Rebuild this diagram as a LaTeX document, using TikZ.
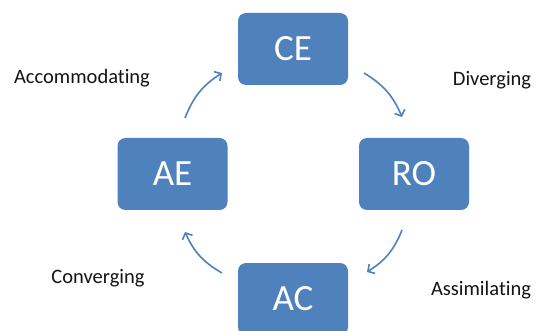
\documentclass[tikz,border=0pt]{standalone}
\usepackage{fontspec}
\setmainfont{Carlito}[Ligatures=NoCommon]
\usetikzlibrary{arrows.meta}
\definecolor{boxblue}{HTML}{4F81BD}
\definecolor{txt}{HTML}{141414}
\tikzset{
  stagebox/.style={fill=boxblue, draw=none, rounded corners=8pt, minimum width=110pt, minimum height=72pt, inner sep=0pt, text=white, font=\fontsize{37}{40}\selectfont},
  cyclearrow/.style={draw=boxblue, line width=1.6pt, -{Straight Barb[length=5pt,width=11pt]}, bend left=18},
  stylelabel/.style={text=txt, font=\fontsize{20.5}{22}\selectfont, inner sep=0pt}
}
\begin{document}
\begin{tikzpicture}[x=1pt,y=-1pt]
\useasboundingbox (0,0) rectangle (538,331);
\fill[white] (0,0) rectangle (538,331);
\node[stagebox] (CE) at (293,49) {CE};
\node[stagebox] (RO) at (414,174) {RO};
\node[stagebox] (AE) at (172.5,174) {AE};
\node[stagebox] (AC) at (293,299) {AC};
\coordinate (s1) at (185,118);
\coordinate (e1) at (222,73);
\coordinate (s2) at (364,73);
\coordinate (e2) at (402,117);
\coordinate (s3) at (402,230);
\coordinate (e3) at (367,272);
\coordinate (s4) at (222,273);
\coordinate (e4) at (185,232);
\draw[cyclearrow] (s1) to (e1);
\draw[cyclearrow] (s2) to (e2);
\draw[cyclearrow] (s3) to (e3);
\draw[cyclearrow] (s4) to (e4);
\node[stylelabel] (acc) at (82,78) {Accommodating};
\node[stylelabel] (div) at (492,80) {Diverging};
\node[stylelabel] (con) at (98,278) {Converging};
\node[stylelabel] (ass) at (481,290) {Assimilating};
\end{tikzpicture}
\end{document}
